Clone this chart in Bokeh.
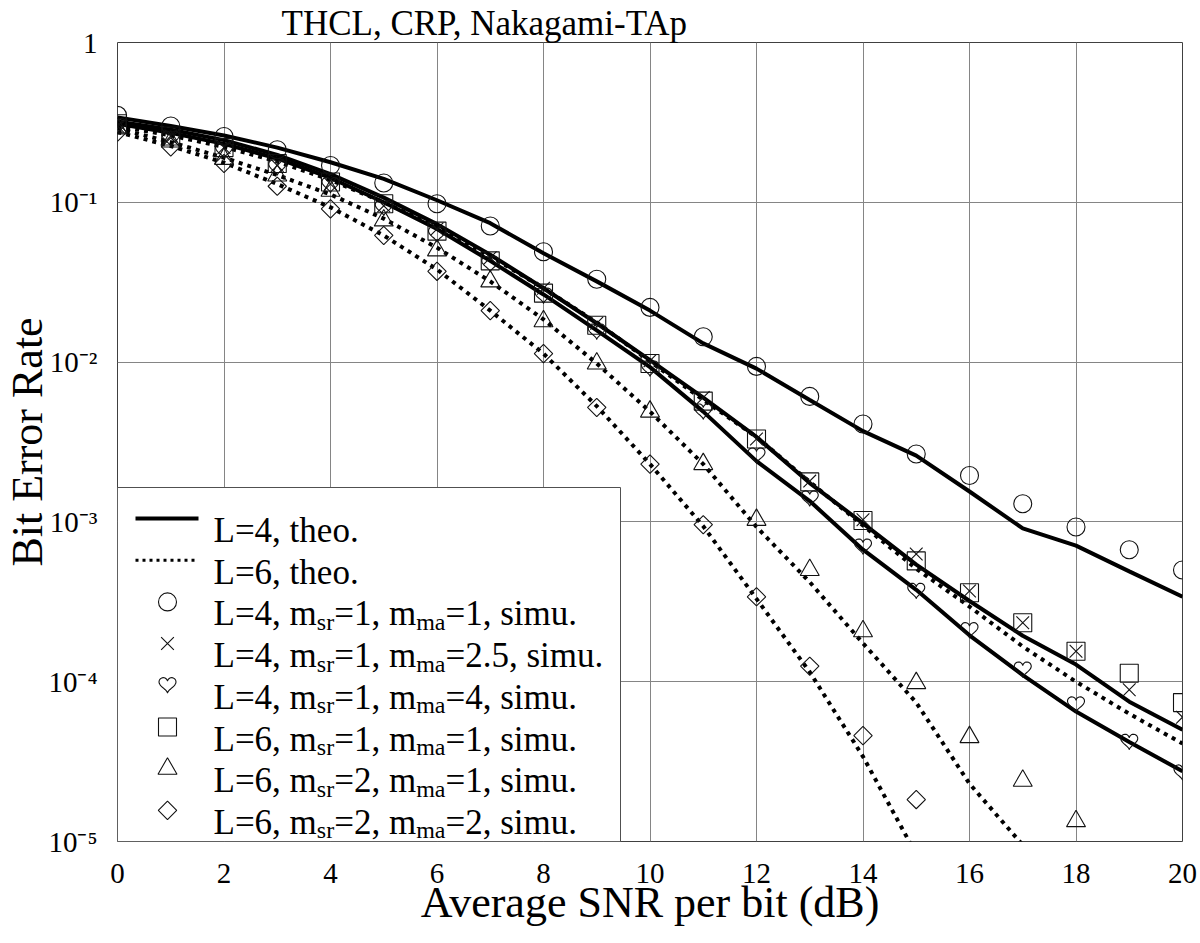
import numpy as np
from bokeh.plotting import figure
from bokeh.models import FixedTicker, Range1d
from bokeh.core.properties import value
from bokeh.embed import file_html
from bokeh.resources import INLINE

# ---------------- data ----------------
snr = list(range(21))

# theoretical curves
theo_L4_m1 = [0.34, 0.30, 0.262, 0.22, 0.178, 0.14, 0.103, 0.074, 0.048, 0.032, 0.021,
              0.0131, 0.0091, 0.0058, 0.0037, 0.0026, 0.00155, 0.00091, 0.00071, 0.00049, 0.00034]
theo_L4_m25 = [0.32, 0.285, 0.245, 0.198, 0.15, 0.107, 0.073, 0.047, 0.029, 0.0175, 0.0103,
               0.006, 0.0034, 0.00175, 0.00098, 0.00054, 0.00032, 0.000194, 0.000128, 7.5e-5, 5.0e-5]
theo_L4_m4 = [0.31, 0.272, 0.232, 0.188, 0.142, 0.1, 0.068, 0.043, 0.0265, 0.0158, 0.0093,
              0.0049, 0.0024, 0.00135, 0.00067, 0.000376, 0.000195, 0.00011, 6.5e-5, 4.2e-5, 2.75e-5]
theo_L6_11 = [0.30, 0.262, 0.222, 0.18, 0.138, 0.1, 0.07, 0.046, 0.029, 0.0177, 0.0101,
              0.0058, 0.0034, 0.00178, 0.00095, 0.00051, 0.000295, 0.000166, 0.0001, 6.3e-5, 4.1e-5]
snr_L6_21 = list(range(18))
theo_L6_21 = [0.29, 0.238, 0.19, 0.148, 0.112, 0.079, 0.052, 0.032, 0.0185, 0.0098, 0.0049,
              0.0023, 0.00093, 0.00042, 0.000174, 7.4e-5, 2.3e-5, 9.5e-6]
snr_L6_22 = list(range(16))
theo_L6_22 = [0.275, 0.225, 0.177, 0.13, 0.093, 0.062, 0.038, 0.021, 0.0113, 0.0053, 0.0023,
              0.00094, 0.00033, 0.000115, 3.4e-5, 8.3e-6]

# simulated points
sim_L4_11 = [0.35, 0.30, 0.258, 0.213, 0.17, 0.132, 0.098, 0.071, 0.049, 0.033, 0.022,
             0.0144, 0.0094, 0.0061, 0.0041, 0.00266, 0.00195, 0.0013, 0.00093, 0.00067, 0.0005]
sim_L4_125 = [0.30, 0.26, 0.22, 0.17, 0.13, 0.095, 0.068, 0.045, 0.029, 0.0175, 0.0102,
              0.006, 0.0033, 0.0018, 0.00103, 0.00063, 0.00037, 0.000234, 0.000155, 8.9e-5, 6.0e-5]
sim_L4_14 = [0.30, 0.25, 0.21, 0.165, 0.128, 0.092, 0.063, 0.041, 0.026, 0.0155, 0.0091,
             0.0049, 0.0026, 0.0014, 0.0007, 0.00037, 0.00021, 0.000119, 7.2e-5, 4.2e-5, 2.7e-5]
sim_L6_11 = [0.31, 0.26, 0.22, 0.175, 0.134, 0.098, 0.066, 0.043, 0.027, 0.017, 0.0098,
             0.0057, 0.0033, 0.00178, 0.00102, 0.00057, 0.00036, 0.000234, 0.000155, 0.000113, 7.4e-5]
snr_sim_L6_21 = list(range(19))
sim_L6_21 = [0.29, 0.24, 0.187, 0.147, 0.118, 0.077, 0.05, 0.032, 0.018, 0.0098, 0.0049,
             0.0023, 0.00103, 0.0005, 0.000207, 9.8e-5, 4.5e-5, 2.4e-5, 1.34e-5]
snr_sim_L6_22 = list(range(16))
sim_L6_22 = [0.275, 0.222, 0.175, 0.126, 0.091, 0.062, 0.037, 0.021, 0.0113, 0.0052, 0.0023,
             0.00096, 0.00034, 0.000125, 4.6e-5, 1.83e-5]

x_ticks = [0, 2, 4, 6, 8, 10, 12, 14, 16, 18, 20]
y_ticks = [1e-5, 1e-4, 1e-3, 1e-2, 1e-1, 1.0]
y_tick_labels = ["10\u207b\u2075", "10\u207b\u2074", "10\u207b\u00b3", "10\u207b\u00b2", "10\u207b\u00b9", "1"]

title_text = "THCL, CRP, Nakagami-TAp"
x_label = "Average SNR per bit (dB)"
y_label = "Bit Error Rate"

theo_labels = ["L=4, theo.", "L=6, theo."]
sim_params = [("4", "1", "1"), ("4", "1", "2.5"), ("4", "1", "4"),
              ("6", "1", "1"), ("6", "2", "1"), ("6", "2", "2")]

# ---------------- layout constants (page pixels) ----------------
W, H = 1200, 943
FL, FR, FT, FB = 117, 1182, 42, 841   # frame edges on the page
XMIN, XMAX = 0, 20
DEC = 5.0
PX_X = (FR - FL) / (XMAX - XMIN)      # pixels per dB
PX_DEC = (FB - FT) / DEC              # pixels per decade


def px2x(px):
    return XMIN + (px - FL) / PX_X


def py2y(py):
    return 10 ** (-(py - FT) / PX_DEC)


SERIF = "Liberation Serif"
INK = "#111111"

p = figure(width=W, height=H, x_range=Range1d(XMIN, XMAX), y_range=Range1d(1e-5, 1.0),
           y_axis_type="log", output_backend="svg", toolbar_location=None,
           min_border_left=FL, min_border_right=W - FR,
           min_border_top=FT, min_border_bottom=H - FB,
           title=title_text, x_axis_label=x_label, y_axis_label=y_label)
p.title.text_font = SERIF
p.title.text_font_size = "35px"
p.title.text_font_style = "normal"
p.title.text_color = "black"
p.title.align = "left"
p.title.offset = 164
p.title.standoff = 0

p.outline_line_color = "#404040"
p.outline_line_width = 1
p.background_fill_color = "white"
p.border_fill_color = "white"

p.xaxis.ticker = FixedTicker(ticks=x_ticks)
p.yaxis.ticker = FixedTicker(ticks=y_ticks)
p.yaxis.major_label_overrides = dict(zip(y_ticks, y_tick_labels))
for ax in (p.xaxis[0], p.yaxis[0]):
    ax.axis_line_color = None
    ax.major_tick_line_color = None
    ax.minor_tick_line_color = None
    ax.major_tick_out = 0
    ax.major_tick_in = 0
    ax.minor_tick_out = 0
    ax.minor_tick_in = 0
    ax.major_label_text_font = SERIF
    ax.major_label_text_font_size = "29px"
    ax.major_label_text_color = "black"
    ax.axis_label_text_font = SERIF
    ax.axis_label_text_font_style = "normal"
    ax.axis_label_text_color = "black"
p.xaxis.major_label_standoff = 22
p.yaxis.major_label_standoff = 20
p.xaxis.axis_label_text_font_size = "44px"
p.xaxis.axis_label_standoff = -8
p.yaxis.axis_label_text_font_size = "44px"
p.yaxis.axis_label_standoff = -7

p.xgrid.grid_line_color = "#858585"
p.ygrid.grid_line_color = "#858585"
p.xgrid.grid_line_width = 1
p.ygrid.grid_line_width = 1

# ---------------- curves ----------------
LW = 4
DOT = "4 5"
p.line(snr, theo_L4_m1, line_color="black", line_width=LW)
p.line(snr, theo_L4_m25, line_color="black", line_width=LW)
p.line(snr, theo_L4_m4, line_color="black", line_width=LW)
p.line(snr, theo_L6_11, line_color="black", line_width=LW, line_dash=DOT)
p.line(snr_L6_21, theo_L6_21, line_color="black", line_width=LW, line_dash=DOT)
p.line(snr_L6_22, theo_L6_22, line_color="black", line_width=LW, line_dash=DOT)

# heart-shaped marker outline (pixel template mapped through the plot scales)
_t = np.linspace(0, 2 * np.pi, 48)
_hx = 16 * np.sin(_t) ** 3
_hy = 13 * np.cos(_t) - 5 * np.cos(2 * _t) - 2 * np.cos(3 * _t) - np.cos(4 * _t)


def hearts(xv, yv, width=17.0):
    s = width / 32.0
    xs, ys = [], []
    for x0, y0 in zip(xv, yv):
        xs.append(list(x0 + _hx * s / PX_X))
        ys.append(list(y0 * 10 ** ((_hy + 2.5) * s / PX_DEC)))
    return xs, ys


MW = 1.1
p.scatter(snr, sim_L4_11, marker="circle", size=18, fill_color=None, line_color=INK, line_width=MW)
p.scatter(snr, sim_L4_125, marker="x", size=18, line_color=INK, line_width=MW)
hx, hy = hearts(snr, sim_L4_14)
p.patches(hx, hy, fill_color=None, line_color=INK, line_width=MW)
p.scatter(snr, sim_L6_11, marker="square", size=18, fill_color=None, line_color=INK, line_width=MW)
p.scatter(snr_sim_L6_21, sim_L6_21, marker="triangle", size=19, fill_color=None, line_color=INK, line_width=MW)
p.scatter(snr_sim_L6_22, sim_L6_22, marker="square", angle=np.pi / 4, size=13, fill_color=None,
          line_color=INK, line_width=MW)

# ---------------- legend (drawn by hand because of subscripts) ----------------
p.quad(left=[px2x(FL)], right=[px2x(620)], top=[py2y(487)], bottom=[py2y(FB)],
       fill_color="white", line_color="#505050", line_width=1)

TIMES = {'L': 611, '=': 564, ',': 250, ' ': 250, 'm': 778, 's': 389, 'r': 333, 'a': 444,
         '.': 250, 'i': 278, 'u': 500, 't': 278, 'h': 500, 'e': 444, 'o': 500}


def tw(s, size):
    return sum(TIMES.get(c, 500) for c in s) * size / 1000.0


MAIN, SUB = 35, 24
TX = 213          # text start (page px)
MX = 167          # marker centre
base = [530 + 41.7 * i for i in range(8)]

# line samples
p.line([px2x(135), px2x(198)], [py2y(base[0] - 12)] * 2, line_color="black", line_width=4)
p.line([px2x(135), px2x(198)], [py2y(base[1] - 12)] * 2, line_color="black", line_width=3,
       line_dash="3 4")

tx, ty, tt, sx, sy, st = [], [], [], [], [], []
for i, lab in enumerate(theo_labels):
    tx.append(px2x(TX)); ty.append(py2y(base[i])); tt.append(lab)
for j, (L, msr, mma) in enumerate(sim_params):
    b = base[j + 2]
    x = TX
    for piece, is_sub in [(f"L={L}, m", False), ("sr", True), (f"={msr}, m", False),
                          ("ma", True), (f"={mma}, simu.", False)]:
        if is_sub:
            sx.append(px2x(x)); sy.append(py2y(b + 8)); st.append(piece)
            x += tw(piece, SUB)
        else:
            tx.append(px2x(x)); ty.append(py2y(b)); tt.append(piece)
            x += tw(piece, MAIN)

p.text(tx, ty, text=tt, text_font=value(SERIF), text_font_size=f"{MAIN}px",
       text_baseline="alphabetic", text_align="left", text_color="black")
p.text(sx, sy, text=st, text_font=value(SERIF), text_font_size=f"{SUB}px",
       text_baseline="alphabetic", text_align="left", text_color="black")

my = [py2y(base[k] - 12) for k in range(2, 8)]
mx = px2x(MX)
p.scatter([mx], [my[0]], marker="circle", size=18, fill_color=None, line_color=INK, line_width=MW)
p.scatter([mx], [my[1]], marker="x", size=18, line_color=INK, line_width=MW)
lhx, lhy = hearts([mx], [my[2]])
p.patches(lhx, lhy, fill_color=None, line_color=INK, line_width=MW)
p.scatter([mx], [my[3]], marker="square", size=18, fill_color=None, line_color=INK, line_width=MW)
p.scatter([mx], [my[4]], marker="triangle", size=19, fill_color=None, line_color=INK, line_width=MW)
p.scatter([mx], [my[5]], marker="square", angle=np.pi / 4, size=13, fill_color=None,
          line_color=INK, line_width=MW)

open("out.html", "w").write(file_html(p, INLINE))
